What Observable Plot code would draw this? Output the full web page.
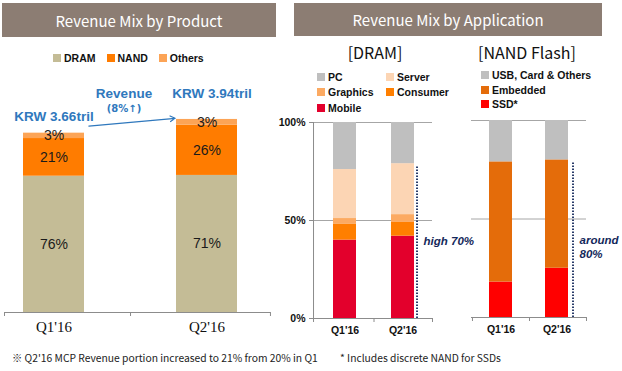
<!DOCTYPE html>
<html><head><meta charset="utf-8">
<script src="https://cdn.jsdelivr.net/npm/d3@7"></script>
<script src="https://cdn.jsdelivr.net/npm/@observablehq/plot@0.6"></script>
<style>
body{margin:0;background:#fff;}
#root{position:relative;width:622px;height:371px;overflow:hidden;font-family:"Noto Sans CJK KR","Liberation Sans",sans-serif;color:#111;}
.hdr{position:absolute;background:#8c7d73;color:#fff;font-size:15px;display:flex;align-items:center;justify-content:center;}
.sub{position:absolute;font-size:16px;transform:translate(-50%,-50%);white-space:nowrap;}
.leg{position:absolute;font:bold 10.5px "Liberation Sans",Arial,sans-serif;color:#111;display:flex;align-items:center;white-space:nowrap;height:12px;}
.sw{display:inline-block;width:8px;height:8px;margin-right:3px;}
.ann{position:absolute;transform:translate(-50%,-50%);white-space:nowrap;font-family:"Liberation Sans",Arial,sans-serif;font-weight:bold;color:#2f78bd;}
.note{position:absolute;font-size:10.3px;color:#222;white-space:nowrap;transform:translateY(-50%);}
.plot{position:absolute;top:0;}
</style></head><body><div id="root"></div>
<script>
// ---------- data ----------
const quarters = ["Q1'16", "Q2'16"];
const revenueTril = [3.66, 3.94];
const productSeries = ["DRAM", "NAND", "Others"];
const dramShare = [76, 71];
const nandShare = [21, 26];
const othersShare = [3, 3];
const productColors = ["#c4bc96", "#ff7c00", "#fca456"];

const dramApps = ["Mobile", "Consumer", "Graphics", "Server", "PC"];
const mobileShare = [40, 42];
const consumerShare = [8, 7];
const graphicsShare = [3, 4];
const serverShare = [25, 26];
const pcShare = [24, 21];
const dramAppColors = ["#e3002c", "#ff7f00", "#fcaa62", "#fcd5b4", "#bfbfbf"];
const dramLegendOrder = ["PC", "Server", "Graphics", "Consumer", "Mobile"];

const nandApps = ["SSD*", "Embedded", "USB, Card & Others"];
const ssdShare = [18, 25];
const embeddedShare = [61, 55];
const usbShare = [21, 20];
const nandAppColors = ["#ff0000", "#e46c0a", "#bfbfbf"];
const nandLegendOrder = ["USB, Card & Others", "Embedded", "SSD*"];

const pctTicks = [0, 50, 100];
const dramNote = "high 70%";
const nandNote = "around\n80%";
const growthText = ["Revenue", "(8%\u2191)"];
const footnotes = ["\u203B Q2'16 MCP Revenue portion increased to 21% from 20% in Q1", "* Includes discrete NAND for SSDs"];

// ---------- helpers ----------
const root = document.getElementById("root");
function el(cls, text, style) {
  const d = document.createElement("div");
  d.className = cls; if (text != null) d.textContent = text;
  Object.assign(d.style, style || {}); root.appendChild(d); return d;
}
function legendItem(label, color, left, cy) {
  const d = el("leg", null, {left: left + "px", top: (cy - 6) + "px"});
  const s = document.createElement("span"); s.className = "sw"; s.style.background = color;
  d.appendChild(s); d.appendChild(document.createTextNode(label));
}
function stackRows(series, shares, weights) {
  return quarters.flatMap((q, i) => series.map((s, j) => ({
    q, s, share: shares[j][i],
    value: weights ? shares[j][i] * weights[i] / 100 : shares[j][i]
  })));
}
function bandInfo(range, pi, po, align) {
  const sc = Plot.scale({x: {type: "band", domain: quarters, range, paddingInner: pi, paddingOuter: po, align}});
  const bw = sc.bandwidth, step = sc.step;
  const c = quarters.map(q => sc.apply(q) + bw / 2);
  return {opts: {domain: quarters, range, paddingInner: pi, paddingOuter: po, align, axis: null}, bw, step, c, range};
}
function axisTicks(b, stroke) {
  const base = {y1: 0, y2: 0, insetBottom: -4, stroke};
  return [
    Plot.ruleX([quarters[0]], {...base, dx: b.range[0] - b.c[0]}),
    Plot.ruleX([quarters[0]], {...base, dx: b.step / 2}),
    Plot.ruleX([quarters[1]], {...base, dx: b.range[1] - b.c[1]})
  ];
}
const axisGrey = "#8c8c8c";
const noteColor = "#14285a";
const plotStyle = {fontFamily: "Liberation Sans, Arial, sans-serif", overflow: "visible", background: "transparent"};

// ---------- headers, legends, notes ----------
el("hdr", "Revenue Mix by Product", {left: "2px", top: "3px", width: "274px", height: "34px"});
el("hdr", "Revenue Mix by Application", {left: "294px", top: "3px", width: "308px", height: "33px"});
el("sub", "[DRAM]", {left: "375px", top: "52px"});
el("sub", "[NAND Flash]", {left: "527px", top: "52px"});

const pl = document.createElement("div");
pl.className = "leg"; Object.assign(pl.style, {left: "53px", top: "52px"});
productSeries.forEach((s, i) => {
  const sw = document.createElement("span"); sw.className = "sw"; sw.style.background = productColors[i];
  const t = document.createElement("span"); t.textContent = s; t.style.marginRight = "11px";
  pl.appendChild(sw); pl.appendChild(t);
});
root.appendChild(pl);

const dramColorOf = s => dramAppColors[dramApps.indexOf(s)];
dramLegendOrder.forEach((s, i) => legendItem(s, dramColorOf(s), i % 2 ? 386 : 317, [77, 92, 108][Math.floor(i / 2)]));
const nandColorOf = s => nandAppColors[nandApps.indexOf(s)];
nandLegendOrder.forEach((s, i) => legendItem(s, nandColorOf(s), 481, [75, 90, 104][i]));

el("ann", growthText[0], {left: "124px", top: "93px", fontSize: "13.5px"});
el("ann", growthText[1], {left: "124px", top: "108px", fontSize: "10px", fontFamily: "DejaVu Sans, sans-serif"});
el("note", footnotes[0], {left: "12px", top: "357px"});
el("note", footnotes[1], {left: "340px", top: "357px"});

// ---------- left chart: revenue mix by product ----------
const leftRows = stackRows(productSeries, [dramShare, nandShare, othersShare], revenueTril);
const totals = quarters.map((q, i) => ({q, total: revenueTril[i], label: "KRW " + revenueTril[i].toFixed(2) + "tril"}));
const bL = bandInfo([4, 270], 0.6, 0.169, 0.365);
const left = Plot.plot({
  width: 300, height: 350, marginLeft: 4, marginRight: 30, marginTop: 116, marginBottom: 38,
  style: plotStyle,
  x: bL.opts,
  y: {domain: [0, 4], axis: null},
  color: {domain: productSeries, range: productColors},
  marks: [
    Plot.barY(leftRows, {x: "q", y: "value", fill: "s", order: productSeries}),
    Plot.text(leftRows, Plot.stackY({x: "q", y: "value", z: "s", order: productSeries, text: d => d.share + "%", fontSize: 14, fill: "#1a1a1a"})),
    Plot.ruleY([0], {stroke: axisGrey}),
    ...axisTicks(bL, axisGrey),
    Plot.text(quarters, {x: d => d, frameAnchor: "bottom", dy: 19, fontSize: 15, fontFamily: "Liberation Serif, serif", fill: "#111"}),
    Plot.text(totals.filter((d, i) => i === 0), {x: "q", y: "total", text: "label", dy: -16, fontSize: 13.5, fontWeight: "bold", fill: "#2f78bd"}),
    Plot.text(totals.filter((d, i) => i === 1), {x: "q", y: "total", text: "label", dy: -26, dx: 5, fontSize: 13.5, fontWeight: "bold", fill: "#2f78bd"}),
    Plot.arrow([totals], {x1: d => d[0].q, y1: d => d[0].total, x2: d => d[1].q, y2: d => d[1].total, dy: -4, insetStart: 35, insetEnd: 32, stroke: "#2f78bd", strokeWidth: 1.2, headLength: 7, bend: 0})
  ]
});
left.classList.add("plot"); left.style.left = "0px"; root.appendChild(left);

// ---------- DRAM by application ----------
const dramRows = stackRows(dramApps, [mobileShare, consumerShare, graphicsShare, serverShare, pcShare]);
const dramTop = mobileShare[1] + consumerShare[1] + graphicsShare[1] + serverShare[1];
const bD = bandInfo([43, 162], 0.603, 0.327, 0.526);
const dram = Plot.plot({
  width: 210, height: 350, marginLeft: 43, marginRight: 48, marginTop: 122, marginBottom: 32,
  style: plotStyle,
  x: bD.opts,
  y: {domain: [0, 100], axis: null},
  color: {domain: dramApps, range: dramAppColors},
  marks: [
    Plot.ruleY([50, 100], {stroke: "#a6a6a6"}),
    Plot.barY(dramRows, {x: "q", y: "value", fill: "s", order: dramApps}),
    Plot.ruleY([0], {stroke: axisGrey}),
    Plot.ruleX([quarters[0]], {dx: bD.range[0] - bD.c[0], y1: 0, y2: 100, stroke: axisGrey}),
    Plot.axisY(pctTicks, {tickFormat: d => d + "%", tickSize: 4, tickPadding: 4, fontWeight: "bold", fontSize: 10.5, stroke: axisGrey, fill: "#111"}),
    ...axisTicks(bD, axisGrey),
    Plot.text(quarters, {x: d => d, frameAnchor: "bottom", dy: 15, fontSize: 10.5, fontWeight: "bold", fill: "#111"}),
    Plot.ruleX([{q: quarters[1], top: dramTop}], {x: "q", y1: 0, y2: "top", dx: bD.bw / 2 + 2.5, insetBottom: -2, stroke: noteColor, strokeWidth: 1.8, strokeDasharray: "1.5 1.5"}),
    Plot.text([{q: quarters[1], top: dramTop}], {x: "q", y: d => d.top / 2, text: () => dramNote, textAnchor: "start", dx: bD.bw / 2 + 9, fontSize: 11.5, fontWeight: "bold", fontStyle: "italic", fill: noteColor})
  ]
});
dram.classList.add("plot"); dram.style.left = "270px"; root.appendChild(dram);

// ---------- NAND by application ----------
const nandRows = stackRows(nandApps, [ssdShare, embeddedShare, usbShare]);
const nandTop = ssdShare[1] + embeddedShare[1];
const bN = bandInfo([31, 146], 0.596, 0.307, 0.486);
const nand = Plot.plot({
  width: 182, height: 350, marginLeft: 31, marginRight: 36, marginTop: 120, marginBottom: 33,
  style: plotStyle,
  x: bN.opts,
  y: {domain: [0, 100], axis: null},
  color: {domain: nandApps, range: nandAppColors},
  marks: [
    Plot.ruleY([50, 100], {stroke: "#a6a6a6"}),
    Plot.barY(nandRows, {x: "q", y: "value", fill: "s", order: nandApps}),
    Plot.ruleY([0], {stroke: axisGrey}),
    ...axisTicks(bN, axisGrey),
    Plot.text(quarters, {x: d => d, frameAnchor: "bottom", dy: 15, fontSize: 10.5, fontWeight: "bold", fill: "#111"}),
    Plot.ruleX([{q: quarters[1], top: nandTop}], {x: "q", y1: 0, y2: "top", dx: bN.bw / 2 + 4.5, insetBottom: -2, stroke: noteColor, strokeWidth: 1.8, strokeDasharray: "1.5 1.5"}),
    Plot.text([{q: quarters[1], top: nandTop}], {x: "q", y: d => d.top / 2, text: () => nandNote, textAnchor: "start", dx: bN.bw / 2 + 11, dy: 8, lineHeight: 1.2, fontSize: 11.5, fontWeight: "bold", fontStyle: "italic", fill: noteColor})
  ]
});
nand.classList.add("plot"); nand.style.left = "440px"; root.appendChild(nand);
</script></body></html>
